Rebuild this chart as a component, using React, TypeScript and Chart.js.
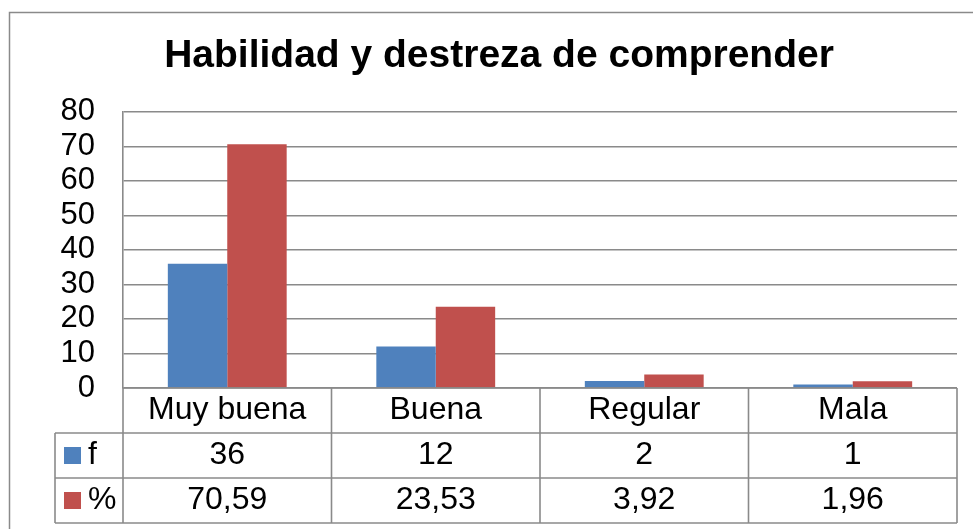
import React, { useEffect, useRef } from 'react';
import { Chart, registerables } from 'chart.js';

Chart.register(...registerables);

const titleText = 'Habilidad y destreza de comprender';
const categories = ['Muy buena', 'Buena', 'Regular', 'Mala'];
const seriesNames = ['f', '%'];
const fValues = [36, 12, 2, 1];
const pctValues = [70.59, 23.53, 3.92, 1.96];
const fLabels = ['36', '12', '2', '1'];
const pctLabels = ['70,59', '23,53', '3,92', '1,96'];
const yMin = 0;
const yMax = 80;
const yStep = 10;

const seriesColors = ['#4F81BD', '#C0504D'];
const FONT = "'Liberation Sans', Arial, sans-serif";
const LINE = '#8a8a8a';

const framePlugin = {
  id: 'frame',
  beforeDraw(chart: any) {
    const { ctx, width, height } = chart;
    ctx.save();
    ctx.fillStyle = '#ffffff';
    ctx.fillRect(0, 0, width, height);
    ctx.strokeStyle = LINE;
    ctx.lineWidth = 1.5;
    ctx.strokeRect(9.5, 12.5, width + 20, height + 20);
    ctx.restore();
  },
};

const tablePlugin = {
  id: 'dataTable',
  afterDraw(chart: any) {
    const { ctx, chartArea } = chart;
    const x = chart.scales.x;
    const n = categories.length;
    const catW = n > 1 ? x.getPixelForValue(1) - x.getPixelForValue(0) : chartArea.right - chartArea.left;
    const left0 = x.getPixelForValue(0) - catW / 2;
    const right = x.getPixelForValue(n - 1) + catW / 2;
    const legendW = 68;
    const legendLeft = left0 - legendW;
    const top = chartArea.bottom;
    const rowH = 45;
    const rows = [fLabels, pctLabels];

    ctx.save();
    ctx.strokeStyle = LINE;
    ctx.lineWidth = 1.6;
    const line = (x1: number, y1: number, x2: number, y2: number) => {
      ctx.beginPath();
      ctx.moveTo(x1, y1);
      ctx.lineTo(x2, y2);
      ctx.stroke();
    };
    line(left0, top, right, top);
    for (let r = 1; r <= 3; r++) line(legendLeft, top + r * rowH, right, top + r * rowH);
    for (let i = 0; i <= n; i++) {
      const xp = left0 + i * catW;
      line(xp, top, xp, top + 3 * rowH);
    }
    line(legendLeft, top + rowH, legendLeft, top + 3 * rowH);

    ctx.fillStyle = '#000000';
    ctx.font = `32px ${FONT}`;
    ctx.textAlign = 'center';
    ctx.textBaseline = 'middle';
    for (let i = 0; i < n; i++) {
      const cx = x.getPixelForValue(i);
      ctx.fillText(categories[i], cx, top + rowH / 2);
      rows.forEach((row, r) => {
        ctx.fillText(row[i], cx, top + (r + 1) * rowH + rowH / 2);
      });
    }
    // legend keys
    seriesNames.forEach((name, r) => {
      const cy = top + (r + 1) * rowH + rowH / 2;
      ctx.fillStyle = seriesColors[r];
      ctx.fillRect(legendLeft + 9, cy - 8.5, 17, 17);
      ctx.fillStyle = '#000000';
      ctx.textAlign = 'left';
      ctx.fillText(name, legendLeft + 33, cy);
    });
    ctx.restore();
  },
};

export default function App() {
  const ref = useRef<HTMLCanvasElement>(null);

  useEffect(() => {
    if (!ref.current) return;
    const chart = new Chart(ref.current, {
      type: 'bar',
      data: {
        labels: categories,
        datasets: [
          { label: seriesNames[0], data: fValues, backgroundColor: seriesColors[0] },
          { label: seriesNames[1], data: pctValues, backgroundColor: seriesColors[1] },
        ],
      },
      options: {
        animation: false,
        responsive: false,
        layout: { padding: { top: 12, left: 41, right: 16, bottom: 141 } },
        datasets: { bar: { categoryPercentage: 0.57, barPercentage: 1 } },
        plugins: {
          legend: { display: false },
          tooltip: { enabled: false },
          title: {
            display: true,
            text: titleText,
            color: '#000000',
            font: { family: FONT, size: 39, weight: 'bold' },
            padding: { top: 21, bottom: 32 },
          },
        },
        scales: {
          x: { display: false },
          y: {
            min: yMin,
            max: yMax,
            afterFit: (s: any) => { s.width = 82; },
            ticks: {
              stepSize: yStep,
              autoSkip: false,
              padding: 28,
              color: '#000000',
              font: { family: FONT, size: 31 },
            },
            grid: { color: LINE, lineWidth: 1.6, drawTicks: false },
            border: { display: true, color: LINE, width: 1.6 },
          },
        },
      } as any,
      plugins: [framePlugin, tablePlugin],
    });
    return () => chart.destroy();
  }, []);

  return (
    <div style={{ position: 'absolute', left: 0, top: 0, width: 973, height: 529 }}>
      <canvas ref={ref} width={973} height={529} />
    </div>
  );
}
